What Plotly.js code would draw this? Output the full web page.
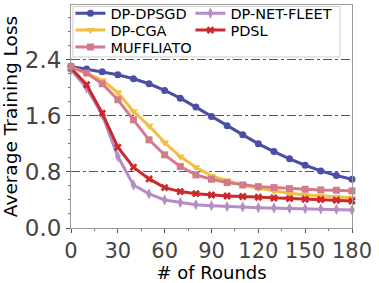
<!DOCTYPE html>
<html>
<head>
<meta charset="utf-8">
<script src="https://cdn.plot.ly/plotly-3.0.1.min.js"></script>
<style>html,body{margin:0;padding:0;background:#fff;}#chart{width:379px;height:283px;}</style>
</head>
<body>
<div id="chart"></div>
<script>
const rounds = [0,10,20,30,40,50,60,70,80,90,100,110,120,130,140,150,160,170,180];
const dpDpsgd = [2.305,2.267,2.229,2.186,2.129,2.057,1.962,1.852,1.724,1.590,1.457,1.329,1.200,1.090,0.986,0.895,0.814,0.748,0.695];
const dpCga = [2.295,2.210,2.105,1.933,1.662,1.457,1.219,1.019,0.867,0.743,0.676,0.614,0.567,0.529,0.495,0.471,0.457,0.443,0.433];
const muffliato = [2.300,2.210,2.057,1.829,1.543,1.257,1.043,0.876,0.757,0.695,0.648,0.614,0.590,0.576,0.562,0.552,0.543,0.538,0.529];
const dpNetFleet = [2.257,1.995,1.614,1.019,0.614,0.486,0.400,0.362,0.333,0.319,0.305,0.300,0.290,0.286,0.281,0.276,0.271,0.267,0.257];
const pdsl = [2.280,2.043,1.638,1.152,0.867,0.700,0.576,0.519,0.490,0.471,0.457,0.448,0.438,0.429,0.419,0.410,0.405,0.395,0.386];
const xTicks = [0,30,60,90,120,150,180];
const yTicks = [0,0.8,1.6,2.4];
const yTickText = ['0.0','0.8','1.6','2.4'];

function tr(name, y, color, symbol, size, lg){
  return {x: rounds, y: y, name: name, type: 'scatter', mode: 'lines+markers',
    line: {color: color, width: 3}, marker: {color: color, symbol: symbol, size: size},
    cliponaxis: false, legend: lg};
}
const data = [
  tr('DP-DPSGD', dpDpsgd, '#4a4ea6', 'circle', 7, 'legend'),
  tr('DP-NET-FLEET', dpNetFleet, '#b48cc6', 'diamond-tall', 8, 'legend4'),
  tr('DP-CGA', dpCga, '#f5be41', 'triangle-down', 8, 'legend2'),
  tr('PDSL', pdsl, '#cc2a2a', 'x', 7, 'legend5'),
  tr('MUFFLIATO', muffliato, '#d47b8a', 'square', 7, 'legend3')
];
function lg(x, y){
  return {orientation: 'v', x: x, y: y, xanchor: 'left', yanchor: 'middle',
    bgcolor: 'rgba(0,0,0,0)', borderwidth: 0, itemwidth: 30, tracegroupgap: 0,
    font: {size: 14.5, family: 'DejaVu Sans', color: '#000'}};
}
const layout = {
  width: 379, height: 283,
  margin: {l: 71, r: 27, t: 5, b: 55, autoexpand: false},
  paper_bgcolor: '#fff', plot_bgcolor: '#fff',
  font: {family: 'DejaVu Sans', color: '#000'},
  showlegend: true,
  legend: lg(-0.002, 0.963),
  legend2: lg(-0.002, 0.887),
  legend3: lg(-0.002, 0.811),
  legend4: lg(0.425, 0.963),
  legend5: lg(0.425, 0.887),
  shapes: [{type: 'rect', xref: 'paper', yref: 'paper', x0: 0.007, x1: 0.957, y0: 0.767, y1: 0.993,
    line: {color: '#cccccc', width: 1}, fillcolor: 'rgba(255,255,255,0.85)', layer: 'above'}],
  xaxis: {range: [0, 180], tickvals: xTicks, ticktext: xTicks.map(String),
    tickfont: {size: 21, color: '#444'}, showgrid: false, zeroline: false,
    showline: true, linecolor: '#999', linewidth: 1, mirror: true,
    ticks: 'outside', ticklen: 4, tickcolor: '#555',
    minor: {dtick: 15, ticks: 'outside', ticklen: 2, tickcolor: '#777', showgrid: false},
    title: {text: '# of Rounds', font: {size: 18, color: '#000'}, standoff: 0}},
  yaxis: {range: [0, 3.18], tickvals: yTicks, ticktext: yTickText,
    tickfont: {size: 23, color: '#444'}, showgrid: true, gridcolor: '#555', griddash: 'dashdot', gridwidth: 1,
    zeroline: false, showline: true, linecolor: '#999', linewidth: 1, mirror: true,
    ticks: 'outside', ticklen: 4, tickcolor: '#555',
    minor: {dtick: 0.2, tick0: 0, ticks: 'outside', ticklen: 2, tickcolor: '#777', showgrid: false},
    title: {text: 'Average Training Loss', font: {size: 18.5, color: '#000'}, standoff: 2}}
};
Plotly.newPlot('chart', data, layout, {staticPlot: true});
</script>
</body>
</html>
